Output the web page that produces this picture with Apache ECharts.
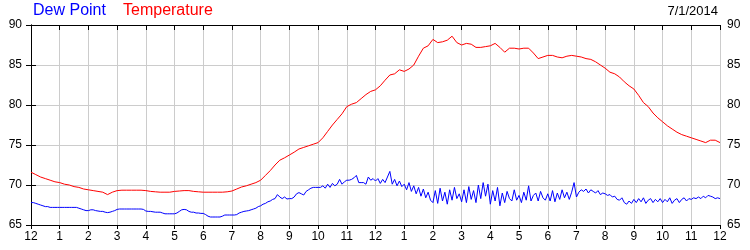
<!DOCTYPE html>
<html>
<head>
<meta charset="utf-8">
<script src="https://cdn.jsdelivr.net/npm/echarts@6/dist/echarts.min.js"></script>
<style>
html,body{margin:0;padding:0;background:#fff;}
#chart{width:750px;height:250px;}
</style>
</head>
<body>
<div id="chart"></div>
<script>
// Hour tick labels (midnight to midnight)
var hourLabels = ['12','1','2','3','4','5','6','7','8','9','10','11','12','1','2','3','4','5','6','7','8','9','10','11','12'];
var yTicks = [65, 70, 75, 80, 85, 90];
var dateText = '7/1/2014';

// Temperature, 10-minute readings (6 per hour), °F
var temperature = [
  71.6, 71.3, 71.0, 70.8, 70.6, 70.4,
  70.3, 70.1, 70.0, 69.8, 69.7, 69.5,
  69.4, 69.3, 69.2, 69.1, 68.8, 69.1,
  69.3, 69.35, 69.35, 69.35, 69.35, 69.35,
  69.3, 69.2, 69.15, 69.1, 69.1, 69.1,
  69.2, 69.25, 69.3, 69.3, 69.2, 69.15,
  69.1, 69.1, 69.1, 69.1, 69.1, 69.15,
  69.25, 69.5, 69.75, 69.9, 70.1, 70.3,
  70.6, 71.2, 71.8, 72.5, 73.1, 73.4,
  73.75, 74.1, 74.5, 74.7, 74.9, 75.1,
  75.3, 75.9, 76.7, 77.5, 78.2, 78.9,
  79.8, 80.1, 80.3, 80.8, 81.3, 81.7,
  81.9, 82.4, 83.1, 83.75, 83.9, 84.4,
  84.2, 84.5, 85.0, 86.1, 87.1, 87.4,
  88.2, 87.8, 87.9, 88.1, 88.6, 87.8,
  87.5, 87.7, 87.6, 87.2, 87.2, 87.3,
  87.4, 87.7, 87.2, 86.6, 87.1, 87.1,
  87.0, 87.1, 87.1, 86.5, 85.8, 86.0,
  86.2, 86.2, 86.0, 85.9, 86.1, 86.2,
  86.1, 86.0, 85.8, 85.7, 85.4, 85.0,
  84.6, 84.1, 83.9, 83.5, 82.9, 82.4,
  82.0, 81.2, 80.3, 79.8, 79.0, 78.4,
  77.9, 77.4, 77.0, 76.6, 76.3, 76.1,
  75.9, 75.7, 75.5, 75.3, 75.6, 75.6,
  75.3
];

// Dew point, 5-minute readings (12 per hour), °F
var dewPoint = [
  67.8, 67.8, 67.7, 67.6, 67.5, 67.4, 67.3, 67.3, 67.2, 67.2, 67.2, 67.2,
  67.2, 67.2, 67.2, 67.2, 67.2, 67.2, 67.2, 67.2, 67.1, 67.0, 66.9, 66.8,
  66.8, 66.9, 66.9, 66.8, 66.75, 66.7, 66.7, 66.6, 66.55, 66.6, 66.7, 66.8,
  66.95, 67.0, 67.0, 67.0, 67.0, 67.0, 67.0, 67.0, 67.0, 67.0, 67.0, 66.95,
  66.75, 66.7, 66.7, 66.65, 66.6, 66.6, 66.6, 66.5, 66.4, 66.4, 66.4, 66.4,
  66.4, 66.5, 66.7, 66.9, 66.95, 66.9, 66.7, 66.6, 66.6, 66.5, 66.5, 66.45,
  66.45, 66.3, 66.1, 66.0, 66.0, 66.0, 66.0, 66.0, 66.1, 66.25, 66.25, 66.25,
  66.25, 66.25, 66.3, 66.5, 66.6, 66.7, 66.75, 66.8, 66.9, 67.0, 67.1, 67.3,
  67.4, 67.6, 67.7, 67.9, 68.0, 68.2, 68.3, 68.8, 68.5, 68.3, 68.5, 68.25,
  68.3, 68.3, 68.5, 68.9, 69.05, 68.9, 68.75, 69.2, 69.4, 69.6, 69.7, 69.7,
  69.7, 69.7, 69.9, 69.6, 70.1, 69.7, 70.2, 69.9, 70.1, 70.7, 70.1, 70.4,
  70.6, 70.6, 70.7, 70.9, 71.2, 70.3, 70.3, 70.3, 70.1, 71.0, 70.6, 70.8,
  70.5, 70.8, 70.2, 70.7, 70.3, 71.0, 71.7, 70.1, 70.7, 69.9, 70.5, 69.8,
  70.1, 69.4, 70.3, 69.2, 69.9, 68.9, 69.7, 68.6, 69.5, 68.4, 69.1, 68.1,
  67.8, 69.3, 67.7, 69.6, 68.0, 69.1, 67.6, 69.4, 68.1, 69.7, 68.3, 68.9,
  67.9, 69.4, 67.8, 69.8, 68.2, 69.3, 67.8, 70.0, 68.3, 70.3, 68.6, 70.1,
  67.6, 69.3, 68.0, 69.7, 67.4, 69.0, 67.8, 69.2, 68.3, 68.0, 69.4, 68.1,
  68.7, 67.8, 69.1, 68.1, 69.9, 68.0, 68.7, 69.0, 68.0, 69.2, 68.4, 68.1,
  68.9, 68.0, 69.3, 67.9, 69.0, 68.2, 69.4, 68.4, 69.1, 68.2, 69.1, 70.3,
  68.5, 69.1, 69.4, 69.2, 69.5, 69.0, 69.4, 69.2, 69.0, 69.3, 68.8, 69.0,
  68.9, 68.7, 68.8, 68.5, 68.6, 68.2, 68.1, 68.4, 67.8, 67.6, 68.0, 67.7,
  68.2, 67.8, 68.3, 67.9, 68.4, 67.7, 68.1, 68.3, 67.8, 68.2, 67.9, 68.3,
  67.8, 68.2, 67.9, 68.4, 67.7, 68.1, 68.3, 67.8, 68.2, 68.4, 68.0, 68.3,
  68.2, 68.4, 68.3, 68.5, 68.3, 68.6, 68.4, 68.7, 68.6, 68.5, 68.3, 68.4,
  68.3
];

function toPairs(vals, perHour) {
  return vals.map(function (v, i) { return [i / perHour, v]; });
}

var chart = echarts.init(document.getElementById('chart'), null, {renderer: 'canvas'});
var FONT = 'Liberation Sans, Arial, sans-serif';
chart.setOption({
  animation: false,
  backgroundColor: '#fff',
  grid: {left: 31, right: 30, top: 25, bottom: 25, containLabel: false},
  graphic: [
    {type: 'text', left: 33, top: 3, style: {text: 'Dew Point', fill: '#0000ff', font: '16px ' + FONT}},
    {type: 'text', left: 123, top: 3, style: {text: 'Temperature', fill: '#ff0000', font: '16px ' + FONT}},
    {type: 'text', right: 32, top: 5, style: {text: dateText, fill: '#000', font: '13px ' + FONT}}
  ],
  xAxis: [
    {
      type: 'value', position: 'bottom', min: 0, max: 24, interval: 1,
      axisLine: {show: true, lineStyle: {color: '#000', width: 1}},
      axisTick: {show: true, inside: false, length: 4, lineStyle: {color: '#000'}},
      axisLabel: {color: '#000', fontSize: 12, fontFamily: FONT, margin: 6,
        formatter: function (v) { return hourLabels[Math.round(v)]; }},
      splitLine: {show: true, lineStyle: {color: '#cccccc', width: 1}}
    },
    {
      type: 'value', position: 'top', min: 0, max: 24, interval: 1,
      axisLine: {show: true, lineStyle: {color: '#000', width: 1}},
      axisTick: {show: true, inside: true, length: 5, lineStyle: {color: '#000'}},
      axisLabel: {show: false},
      splitLine: {show: false}
    }
  ],
  yAxis: [
    {
      type: 'value', position: 'left', min: yTicks[0], max: yTicks[yTicks.length - 1], interval: 5,
      axisLine: {show: true, lineStyle: {color: '#000', width: 1}},
      axisTick: {show: true, inside: true, length: 5, lineStyle: {color: '#000'}},
      axisLabel: {color: '#000', fontSize: 12, fontFamily: FONT, margin: 9},
      splitLine: {show: true, lineStyle: {color: '#cccccc', width: 1}}
    },
    {
      type: 'value', position: 'right', min: yTicks[0], max: yTicks[yTicks.length - 1], interval: 5,
      axisLine: {show: true, lineStyle: {color: '#000', width: 1}},
      axisTick: {show: true, inside: true, length: 5, lineStyle: {color: '#000'}},
      axisLabel: {color: '#000', fontSize: 12, fontFamily: FONT, margin: 7},
      splitLine: {show: false}
    }
  ],
  series: [
    {
      name: 'Dew Point', type: 'line', xAxisIndex: 0, yAxisIndex: 0,
      data: toPairs(dewPoint, 12), showSymbol: false, symbol: 'none',
      lineStyle: {color: '#0000ff', width: 1}, z: 3
    },
    {
      name: 'Temperature', type: 'line', xAxisIndex: 0, yAxisIndex: 0,
      data: toPairs(temperature, 6), showSymbol: false, symbol: 'none',
      lineStyle: {color: '#ff0000', width: 1}, z: 4
    }
  ]
});
</script>
</body>
</html>
